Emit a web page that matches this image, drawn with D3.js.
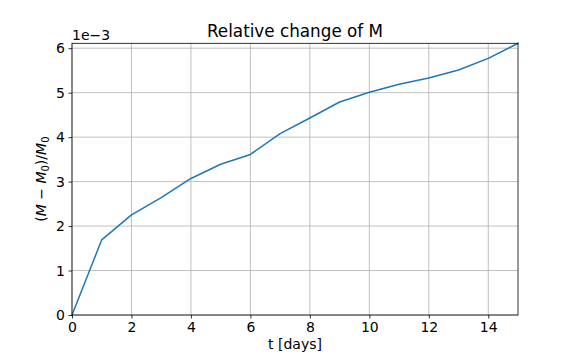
<!DOCTYPE html>
<html><head><meta charset="utf-8">
<script src="https://cdn.jsdelivr.net/npm/d3@7"></script>
<style>body{margin:0;background:#fff}svg{display:block;font-family:"DejaVu Sans",sans-serif}</style>
</head><body><svg id="c" width="576" height="360"></svg>
<script>
const days = [0,1,2,3,4,5,6,7,8,9,10,11,12,13,14,15];
const relChange = [0,1.69,2.25,2.64,3.07,3.39,3.61,4.08,4.43,4.79,5.01,5.19,5.33,5.51,5.77,6.11]; // x1e-3
const xTicks = [0,2,4,6,8,10,12,14];
const yTicks = [0,1,2,3,4,5,6];
const title = "Relative change of M";
const xLabel = "t [days]";

const svg = d3.select("#c");
const L=72, R=518, T=43.3, B=315;
const x = d3.scaleLinear().domain([0,15]).range([L,R]);
const y = d3.scaleLinear().domain([0,d3.max(relChange)]).range([B,T]);

// grid
svg.append("g").selectAll("line").data(xTicks).join("line")
  .attr("x1",d=>x(d)).attr("x2",d=>x(d)).attr("y1",T).attr("y2",B)
  .attr("stroke","#b0b0b0").attr("stroke-width",0.8);
svg.append("g").selectAll("line").data(yTicks).join("line")
  .attr("x1",L).attr("x2",R).attr("y1",d=>y(d)).attr("y2",d=>y(d))
  .attr("stroke","#b0b0b0").attr("stroke-width",0.8);

// line
svg.append("path").datum(days.map((d,i)=>[d,relChange[i]]))
  .attr("d",d3.line().x(d=>x(d[0])).y(d=>y(d[1])))
  .attr("fill","none").attr("stroke","#1f77b4").attr("stroke-width",1.5)
  .attr("stroke-linejoin","round").attr("stroke-linecap","square");

// axes
const xa = svg.append("g").attr("transform",`translate(0,${B})`)
  .call(d3.axisBottom(x).tickValues(xTicks).tickSize(3.5).tickPadding(3.5).tickFormat(d3.format("d")));
const ya = svg.append("g").attr("transform",`translate(${L},0)`)
  .call(d3.axisLeft(y).tickValues(yTicks).tickSize(3.5).tickPadding(3.5).tickFormat(d3.format("d")));
[xa,ya].forEach(g=>{
  g.select(".domain").remove();
  g.selectAll("line").attr("stroke","#000").attr("stroke-width",0.8);
  g.selectAll("text").attr("fill","#000").style("font-size","14px").style("font-family","DejaVu Sans");
});
// frame
svg.append("rect").attr("x",L).attr("y",T).attr("width",R-L).attr("height",B-T)
  .attr("fill","none").attr("stroke","#000").attr("stroke-width",0.8);

// offset text
svg.append("text").attr("x",L).attr("y",40).style("font-size","14px").text("1e\u22123");

// title
svg.append("text").attr("x",(L+R)/2).attr("y",37).attr("text-anchor","middle")
  .style("font-size","16.8px").text(title);
// x label
svg.append("text").attr("x",(L+R)/2).attr("y",349).attr("text-anchor","middle")
  .style("font-size","14px").text(xLabel);
// y label
const yl = svg.append("text").attr("transform",`translate(46,${(T+B)/2}) rotate(-90)`)
  .attr("text-anchor","middle").style("font-size","14px");
yl.append("tspan").text("(");
yl.append("tspan").attr("font-style","italic").text("M");
yl.append("tspan").text(" \u2212 ");
yl.append("tspan").attr("font-style","italic").text("M");
yl.append("tspan").attr("font-size","10px").attr("dy",3).text("0");
yl.append("tspan").attr("dy",-3).text(")/");
yl.append("tspan").attr("font-style","italic").text("M");
yl.append("tspan").attr("font-size","10px").attr("dy",3).text("0");
</script></body></html>
